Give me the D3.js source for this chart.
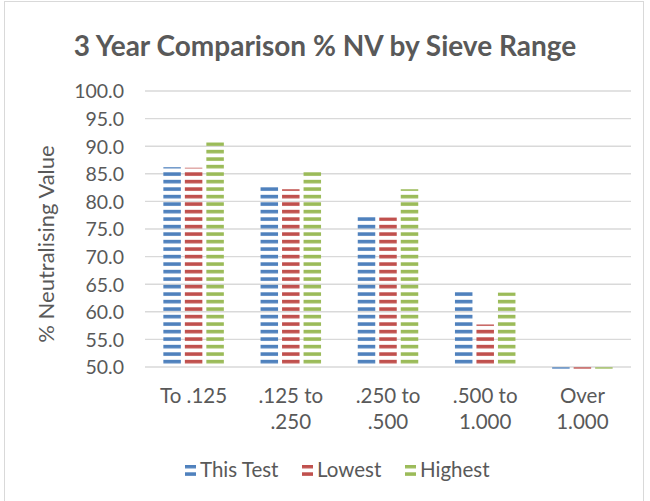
<!DOCTYPE html>
<html>
<head>
<meta charset="utf-8">
<script src="https://cdn.jsdelivr.net/npm/d3@7"></script>
<style>
  body { margin: 0; background: #fff; }
  text { font-family: Lato, "Carlito", Calibri, sans-serif; fill: #595959; }
</style>
</head>
<body>
<div class="chart"></div>
<script>
// data
var categories = ["To .125", ".125 to .250", ".250 to .500", ".500 to 1.000", "Over 1.000"];
var categoryLines = [["To .125"], [".125 to", ".250"], [".250 to", ".500"], [".500 to", "1.000"], ["Over", "1.000"]];
var seriesNames = ["This Test", "Lowest", "Highest"];
var thisTest = [86.2, 82.6, 77.4, 63.6, 49.7];
var lowest = [86.1, 82.2, 77.1, 57.7, 49.7];
var highest = [90.7, 85.4, 82.2, 63.5, 49.7];
var yTicks = [50, 55, 60, 65, 70, 75, 80, 85, 90, 95, 100];
var colors = ["#4F81BD", "#C0504D", "#9BBB59"];

var seriesValues = [thisTest, lowest, highest];

var W = 650, H = 501;
var plot = { left: 145, right: 631, top: 91, bottom: 367 };

var svg = d3.select(".chart")
    .append("svg")
    .attr("width", W)
    .attr("height", H);

// striped pattern fills, one per series (anchored to the page)
var defs = svg.append("defs");
colors.forEach(function (c, i) {
    var p = defs.append("pattern")
        .attr("id", "stripe" + i)
        .attr("patternUnits", "userSpaceOnUse")
        .attr("x", 0)
        .attr("y", -0.2)
        .attr("width", 10)
        .attr("height", 7.5);
    p.append("rect")
        .attr("x", 0).attr("y", 0)
        .attr("width", 10).attr("height", 3.6)
        .attr("fill", c);
});

// chart border
svg.append("rect")
    .attr("x", 4.5).attr("y", 1.5)
    .attr("width", 639).attr("height", 520)
    .attr("fill", "none")
    .attr("stroke", "#d9d9d9")
    .attr("stroke-width", 1);

// scales
var x0 = d3.scaleBand()
    .domain(categories)
    .range([plot.left, plot.right]);

var x1 = d3.scaleBand()
    .domain(seriesNames)
    .range([0, 60.5])
    .paddingInner(0.186);

var y = d3.scaleLinear()
    .domain([50, 100])
    .range([plot.bottom, plot.top]);

// gridlines
svg.append("g")
    .selectAll("line")
    .data(yTicks)
    .enter().append("line")
    .attr("x1", plot.left)
    .attr("x2", plot.right)
    .attr("y1", function (d) { return y(d); })
    .attr("y2", function (d) { return y(d); })
    .attr("stroke", "#d9d9d9")
    .attr("stroke-width", 1.4);

// y axis labels
var yAxis = svg.append("g")
    .attr("transform", "translate(" + (plot.left - 21) + ",0)")
    .call(d3.axisLeft(y).tickValues(yTicks).tickFormat(d3.format(".1f")).tickSize(0).tickPadding(0));
yAxis.select(".domain").remove();
yAxis.selectAll("text")
    .style("font-size", "19.5px")
    .attr("fill", "#595959")
    .attr("dy", "0.35em");

// bars
var groupOffset = (x0.bandwidth() - 60.5) / 2;
svg.append("g")
    .selectAll("g")
    .data(seriesValues)
    .enter().append("g")
    .attr("fill", function (d, i) { return "url(#stripe" + i + ")"; })
    .each(function (vals, si) {
        d3.select(this).selectAll("rect")
            .data(vals)
            .enter().append("rect")
            .attr("x", function (d, ci) { return x0(categories[ci]) + groupOffset + x1(seriesNames[si]); })
            .attr("width", x1.bandwidth())
            .attr("y", function (d) { return Math.min(y(d), y(50)); })
            .attr("height", function (d) { return Math.abs(y(50) - y(d)); });
    });

// x category labels
var xl = svg.append("g");
categories.forEach(function (c, i) {
    var t = xl.append("text")
        .attr("x", x0(c) + x0.bandwidth() / 2)
        .attr("y", 403)
        .attr("text-anchor", "middle")
        .style("font-size", "20.5px");
    categoryLines[i].forEach(function (line, li) {
        t.append("tspan")
            .attr("x", x0(c) + x0.bandwidth() / 2)
            .attr("dy", li === 0 ? 0 : 26)
            .text(line);
    });
});

// y axis title
svg.append("text")
    .attr("transform", "translate(54," + 244 + ") rotate(-90)")
    .attr("text-anchor", "middle")
    .style("font-size", "22px")
    .text("% Neutralising Value");

// title
svg.append("text")
    .attr("x", 325)
    .attr("y", 56)
    .attr("text-anchor", "middle")
    .style("font-size", "28px")
    .style("font-weight", "bold")
    .text("3 Year Comparison % NV by Sieve Range");

// legend
var legendX = [185, 302, 405];
var legend = svg.append("g")
    .selectAll("g")
    .data(seriesNames)
    .enter().append("g");
legend.append("rect")
    .attr("x", function (d, i) { return legendX[i]; })
    .attr("y", 465)
    .attr("width", 11)
    .attr("height", 11)
    .attr("fill", function (d, i) { return "url(#stripe" + i + ")"; });
legend.append("text")
    .attr("x", function (d, i) { return legendX[i] + 15; })
    .attr("y", 477)
    .style("font-size", "20.5px")
    .text(function (d) { return d; });
</script>
</body>
</html>
